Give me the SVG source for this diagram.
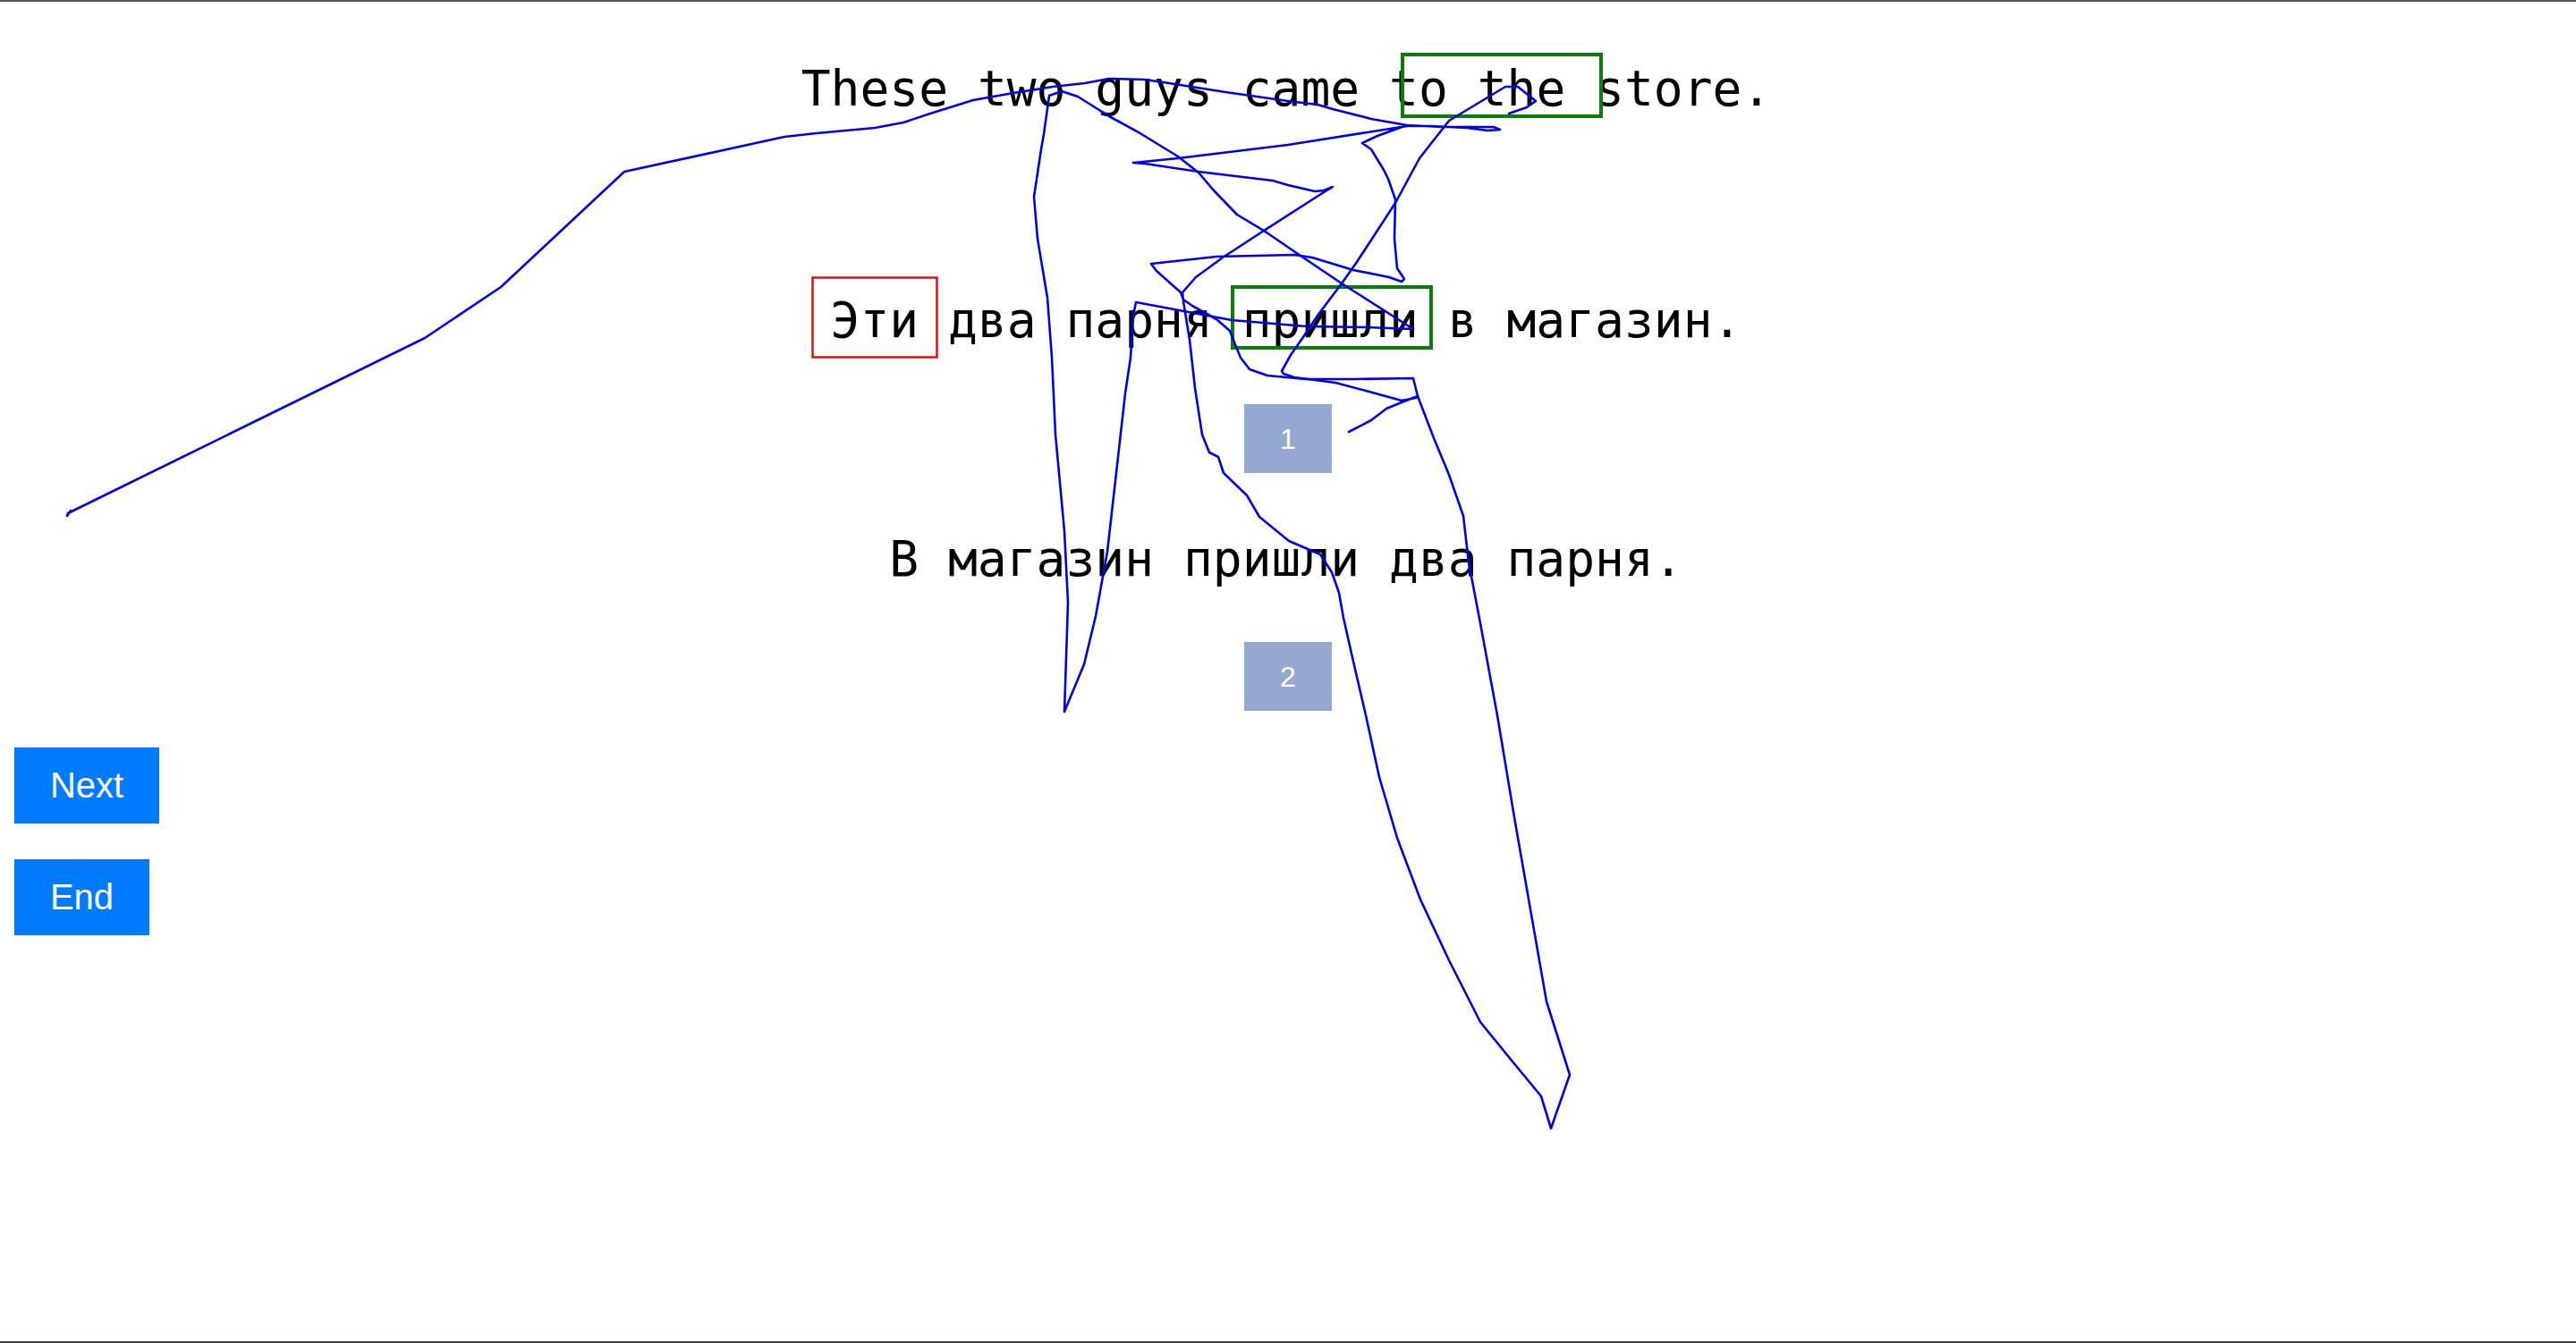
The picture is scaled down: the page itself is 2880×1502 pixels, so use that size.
<svg xmlns="http://www.w3.org/2000/svg" width="2880" height="1502" viewBox="0 0 2880 1502">
<style>
.sent{font-family:"DejaVu Sans Mono","Liberation Mono",monospace;font-size:54.6px;fill:#000;text-anchor:middle}
.btn{fill:#007bff}
.btnt{font-family:"Liberation Sans",Arial,sans-serif;font-size:40px;fill:#fff;text-anchor:middle}
.num{fill:#94a8d1}
.numt{font-family:"Liberation Sans",Arial,sans-serif;font-size:32px;fill:#fff;text-anchor:middle}
.hl-g{fill:none;stroke:#0a7d0a;stroke-width:4}
.hl-r{fill:none;stroke:#e01010;stroke-width:2.5}
.trace{fill:none;stroke:#0000e6;stroke-width:2.6;stroke-linejoin:round;stroke-linecap:round}
</style>
<rect x="0" y="0" width="2880" height="1502" fill="#fff"/>
<rect x="0" y="0" width="2880" height="2" fill="#555"/>
<rect x="0" y="1500" width="2880" height="2" fill="#3c4043"/>

<g id="sentence-en">
<text class="sent" x="1438" y="118">These two guys came to the store.</text>
</g>
<g id="sentence-ru1">
<text class="sent" x="1438" y="377">Эти два парня пришли в магазин.</text>
</g>
<g id="sentence-ru2">
<text class="sent" x="1438" y="644">В магазин пришли два парня.</text>
</g>

<g id="hl-en-tothe"><rect class="hl-g" x="1568" y="61" width="222" height="69"/></g>
<g id="hl-ru-eti"><rect class="hl-r" x="908.5" y="310.5" width="139" height="89"/></g>
<g id="hl-ru-prishli"><rect class="hl-g" x="1378" y="321" width="222" height="68"/></g>

<g id="option-1"><rect class="num" x="1391" y="452" width="98" height="77"/><text class="numt" x="1440" y="502">1</text></g>
<g id="option-2"><rect class="num" x="1391" y="718" width="98" height="77"/><text class="numt" x="1440" y="768">2</text></g>

<g id="btn-next"><rect class="btn" x="16" y="836" width="162" height="85"/><text class="btnt" x="97" y="892">Next</text></g>
<g id="btn-end"><rect class="btn" x="16" y="961" width="151" height="85"/><text class="btnt" x="91.5" y="1017">End</text></g>

<g id="connectors">
<path class="trace" d="M79,571 L75,577 L76,574 L475,378 L560,321 L698,192 L877,153 L913,149 L978,143 L1010,137 L1040,127 L1088,112 L1133,104 L1177,97 L1213,93 L1240,88 L1280,89 L1307,93 L1370,103 L1440,113 L1473,117 L1490,122 L1533,133 L1573,140 L1613,142 L1670,142 L1677,145 L1663,146 L1640,143 L1600,141 L1573,141 L1440,162 L1317,177 L1267,182 L1280,183 L1340,192 L1423,202 L1440,207 L1470,214 L1480,213 L1490,209 L1480,215 L1413,258 L1367,288 L1337,310 L1322,327 L1323,337 L1330,380 L1336,434 L1344,486 L1352,506 L1362,511 L1368,529 L1394,554 L1408,578 L1441,605 L1476,620 L1489,640 L1497,663 L1502,691 L1511,731 L1527,800 L1542,869 L1562,937 L1588,1006 L1620,1074 L1655,1143 L1690,1186 L1723,1226 L1734,1262 L1755,1202 L1729,1120 L1693,914 L1674,800 L1655,697 L1642,629 L1636,577 L1620,531 L1603,490 L1585,443 L1580,423 L1513,424 L1460,424 L1417,420 L1397,413 L1387,400 L1380,383 L1375,370 L1360,357 L1333,342 L1323,335 L1320,327 L1293,303 L1287,295 L1360,287 L1447,285 L1467,288 L1513,302 L1553,310 L1567,315 L1570,312 L1562,300 L1559,267 L1560,223 L1552,200 L1547,190 L1533,167 L1523,160 L1540,152 L1573,140"/>
<path class="trace" d="M1687,127 L1707,120 L1717,113 L1697,97 L1683,97 L1620,135 L1587,177 L1560,227 L1517,293 L1500,317 L1473,353 L1457,377 L1443,397 L1433,415 L1435,418 L1447,422 L1493,428 L1527,437 L1567,448 L1583,445 L1585,443 L1567,450 L1550,457 L1533,470 L1508,483"/>
<path class="trace" d="M1173,107 L1187,102 L1205,108 L1240,130 L1273,148 L1317,175 L1340,193 L1357,213 L1383,240 L1413,258 L1457,288 L1500,317 L1580,368 L1527,366 L1460,365 L1377,358 L1270,338 L1267,353 L1264,400 L1258,440 L1249,520 L1238,617 L1225,689 L1212,743 L1190,796 L1194,674 L1190,594 L1180,486 L1176,400 L1171,333 L1160,267 L1156,220 L1164,167 L1167,150 L1173,107"/>
</g>
</svg>
